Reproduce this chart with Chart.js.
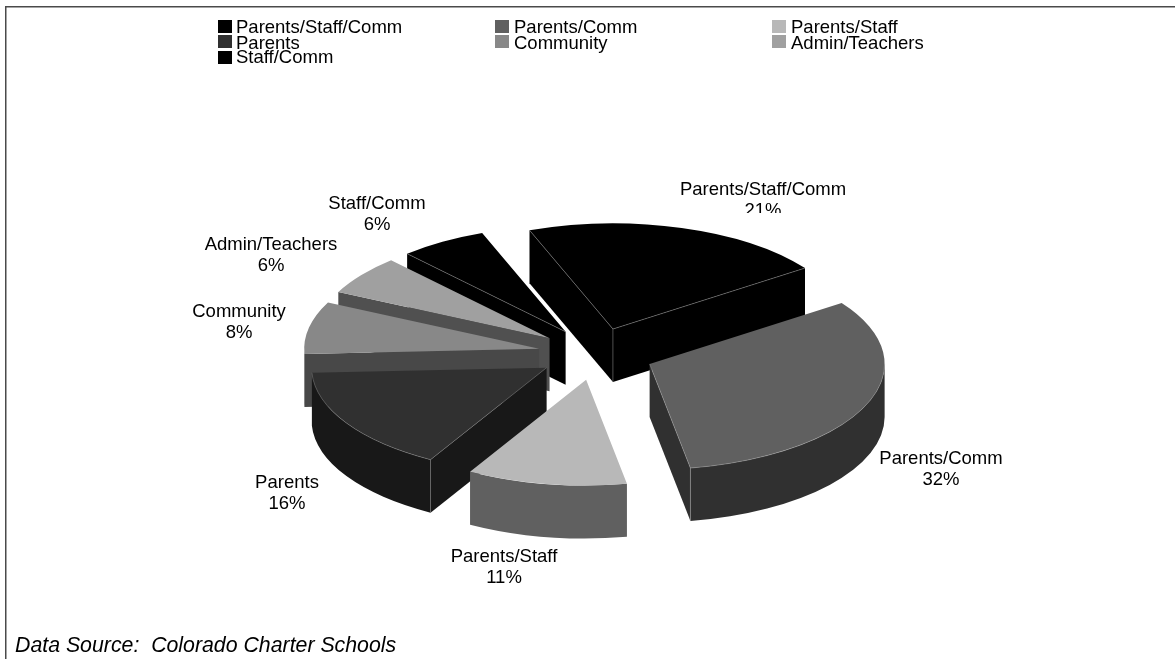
<!DOCTYPE html>
<html>
<head>
<meta charset="utf-8">
<title>Charter school governance</title>
<script src="https://cdn.jsdelivr.net/npm/chart.js@4/dist/chart.umd.min.js"></script>
<style>
    html, body { margin: 0; padding: 0; background: #fff; }
    canvas { display: block; }
</style>
</head>
<body>
<canvas id="pie" width="1175" height="659"></canvas>
<script>
const categories = ["Parents/Staff/Comm", "Parents/Comm", "Parents/Staff", "Parents", "Community", "Admin/Teachers", "Staff/Comm"];
const shares = [21, 32, 11, 16, 8, 6, 6];
const topColors = ["#000000", "#606060", "#b8b8b8", "#303030", "#888888", "#a0a0a0", "#000000"];
const wallColors = ["#000000", "#303030", "#606060", "#181818", "#484848", "#505050", "#000000"];
const edgeColors = ["#8c8c8c", "#a0a0a0", null, "#808080", null, null, "#8c8c8c"];
const sourceNote = "Data Source:  Colorado Charter Schools";

// label centres, one per slice
const labelX = [763, 941, 504, 287, 239, 271, 377];
const labelY = [189, 458, 556, 482, 311, 244, 203];

const FONT = '18.5px "Liberation Sans"';
const TILT = 0.45;      // vertical squash of the pie
const DEPTH = 53;       // wall height in screen pixels
const EXPLODE = 58;     // how far each slice is pulled out
const CENTER_Y = 354;

// path along the outer edge, shifted down by the wall height
function wallPath(ctx, x, y, r, a0, a1, drop) {
    ctx.beginPath();
    ctx.arc(x, y, r, a0, a1);
    ctx.arc(x, y + drop, r, a1, a0, true);
    ctx.closePath();
}

function cutPath(ctx, x, y, r, a, drop) {
    const ex = x + Math.cos(a) * r;
    const ey = y + Math.sin(a) * r;
    ctx.beginPath();
    ctx.moveTo(x, y);
    ctx.lineTo(ex, ey);
    ctx.lineTo(ex, ey + drop);
    ctx.lineTo(x, y + drop);
    ctx.closePath();
}

function drawSlice(ctx, arc, i) {
    const { x, y, startAngle: a0, endAngle: a1, outerRadius: r } = arc;
    const drop = DEPTH / TILT;
    const mid = (a0 + a1) / 2;
    // the part of the rim that faces the viewer
    const rimFrom = Math.max(a0, 0);
    const rimTo = Math.min(a1, Math.PI);
    const hasRim = rimTo > rimFrom;
    const startFaces = Math.sin(a0 - Math.PI / 2) > 0;
    const endFaces = Math.sin(a1 + Math.PI / 2) > 0;

    ctx.save();
    ctx.translate(Math.cos(mid) * EXPLODE, Math.sin(mid) * EXPLODE);

    ctx.fillStyle = wallColors[i];
    if (startFaces) { cutPath(ctx, x, y, r, a0, drop); ctx.fill(); }
    if (endFaces) { cutPath(ctx, x, y, r, a1, drop); ctx.fill(); }
    if (hasRim) { wallPath(ctx, x, y, r, rimFrom, rimTo, drop); ctx.fill(); }

    arc.draw(ctx);

    // thin highlight where the top meets a visible wall
    if (edgeColors[i]) {
        const point = a => [x + Math.cos(a) * r, y + Math.sin(a) * r];
        const segment = (p, q) => {
            ctx.beginPath();
            ctx.moveTo(p[0], p[1]);
            ctx.lineTo(q[0], q[1]);
            ctx.stroke();
        };
        ctx.strokeStyle = edgeColors[i];
        ctx.lineWidth = 0.7;
        if (startFaces) segment([x, y], point(a0));
        if (endFaces) segment([x, y], point(a1));
        if (startFaces && endFaces) segment([x, y], [x, y + drop]);
        if (startFaces && Math.sin(a0) > 0) {
            const p = point(a0);
            segment(p, [p[0], p[1] + drop]);
        }
        if (endFaces && Math.sin(a1) > 0) {
            const p = point(a1);
            segment(p, [p[0], p[1] + drop]);
        }
        if (hasRim) {
            ctx.beginPath();
            ctx.arc(x, y, r, rimFrom, rimTo);
            ctx.stroke();
        }
    }
    ctx.restore();
}

// draws the slices back to front on a squashed canvas
const extrudedPie = {
    id: "extrudedPie",
    beforeDatasetDraw(chart, args) {
        const ctx = chart.ctx;
        const arcs = args.meta.data;
        const order = arcs.map((a, i) => i).sort((p, q) => {
            const mid = a => (a.startAngle + a.endAngle) / 2;
            return Math.sin(mid(arcs[p])) - Math.sin(mid(arcs[q]));
        });
        ctx.save();
        ctx.translate(0, CENTER_Y);
        ctx.scale(1, TILT);
        ctx.translate(0, -arcs[0].y);
        order.forEach(i => drawSlice(ctx, arcs[i], i));
        ctx.restore();
        return false;
    }
};

const annotations = {
    id: "annotations",
    afterDraw(chart) {
        const ctx = chart.ctx;
        ctx.save();

        // frame, open on the right and at the bottom
        ctx.strokeStyle = "#4a4a4a";
        ctx.lineWidth = 1.5;
        ctx.beginPath();
        ctx.moveTo(5.75, 659);
        ctx.lineTo(5.75, 6.75);
        ctx.lineTo(1175, 6.75);
        ctx.stroke();

        ctx.font = FONT;
        ctx.fillStyle = "#000";
        ctx.textBaseline = "alphabetic";

        // legend, three columns
        const colSwatch = [218, 495, 772];
        const colText = [236, 514, 791];
        const rowSwatch = [20, 35, 51];
        const rowText = [33, 49, 63];
        categories.forEach((name, i) => {
            const col = i % 3;
            const row = Math.floor(i / 3);
            ctx.fillStyle = topColors[i];
            ctx.fillRect(colSwatch[col], rowSwatch[row], 14, 13);
            ctx.fillStyle = "#000";
            ctx.textAlign = "left";
            ctx.fillText(name, colText[col], rowText[row]);
        });

        // slice labels
        ctx.textAlign = "center";
        categories.forEach((name, i) => {
            ctx.fillText(name, labelX[i], labelY[i] + 6);
            ctx.save();
            // the top label's percentage is cut off just above the pie
            if (i === 0) {
                ctx.beginPath();
                ctx.rect(labelX[i] - 60, labelY[i], 120, 24);
                ctx.clip();
            }
            ctx.fillText(shares[i] + "%", labelX[i], labelY[i] + 27);
            ctx.restore();
        });

        ctx.textAlign = "left";
        ctx.font = 'italic 21.3px "Liberation Sans"';
        ctx.fillText(sourceNote, 15, 652);
        ctx.restore();
    }
};

new Chart(document.getElementById("pie"), {
    type: "pie",
    data: {
        labels: categories,
        datasets: [{
            data: shares,
            backgroundColor: topColors,
            borderWidth: 0,
            clip: false
        }]
    },
    options: {
        responsive: false,
        animation: false,
        rotation: -20.8,
        radius: 235,
        layout: { padding: { left: 17, top: 49 } },
        plugins: {
            legend: { display: false },
            tooltip: { enabled: false }
        }
    },
    plugins: [extrudedPie, annotations]
});
</script>
</body>
</html>
